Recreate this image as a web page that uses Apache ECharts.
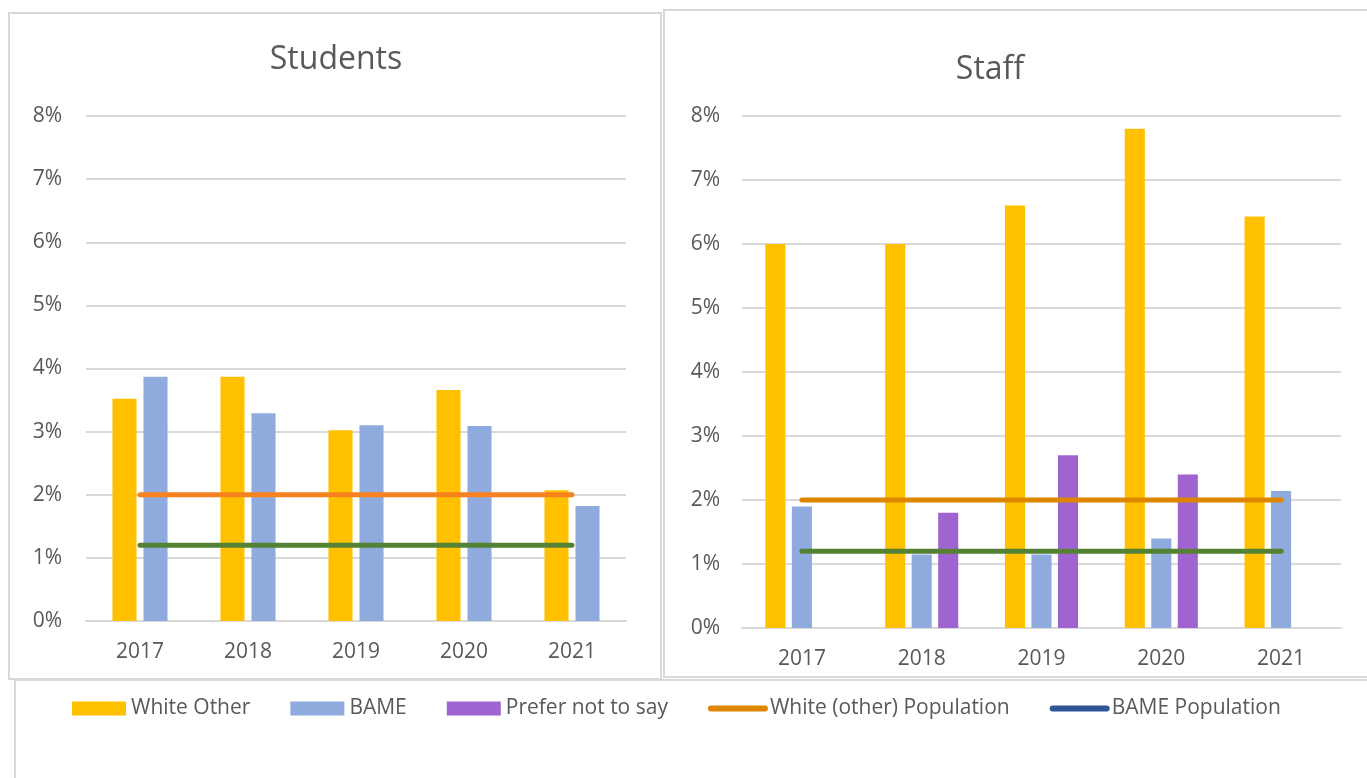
<!DOCTYPE html>
<html>
<head>
<meta charset="utf-8">
<title>Students and Staff – White Other / BAME</title>
<script src="https://cdn.jsdelivr.net/npm/echarts@6/dist/echarts.min.js"></script>
<style>
  html, body { margin: 0; padding: 0; background: #ffffff; }
  #chart { width: 1367px; height: 778px; }
</style>
</head>
<body>
<div id="chart"></div>
<script>
// Categories and tick labels
const years = ['2017', '2018', '2019', '2020', '2021'];
const percentTicks = { min: 0, max: 8, interval: 1 };

// Students (percent)
const studentsWhiteOther = [3.52, 3.87, 3.02, 3.66, 2.07];
const studentsBame = [3.87, 3.29, 3.10, 3.09, 1.82];

// Staff (percent)
const staffWhiteOther = [6.0, 6.0, 6.6, 7.8, 6.43];
const staffBame = [1.9, 1.15, 1.15, 1.4, 2.14];
const staffPreferNot = [null, 1.8, 2.7, 2.4, null];

// Population reference levels (percent)
const whiteOtherPopulation = [2, 2, 2, 2, 2];
const bamePopulation = [1.2, 1.2, 1.2, 1.2, 1.2];

const FONT = '"Open Sans", "Liberation Sans", sans-serif';
const TEXT = '#595959';
const GRID_LINE = '#d9d9d9';
const C_YELLOW = '#ffc000';
const C_BLUE = '#8faadc';
const C_PURPLE = '#a064d0';
const C_ORANGE_STUD = '#f5821f';
const C_ORANGE_STAFF = '#df8600';
const C_GREEN = '#548235';
const C_NAVY = '#2f5597';

function yAxis(gridIndex, margin) {
  return {
    type: 'value', gridIndex,
    min: percentTicks.min, max: percentTicks.max, interval: percentTicks.interval,
    axisLine: { show: false }, axisTick: { show: false },
    axisLabel: { formatter: '{value}%', color: TEXT, fontSize: 21, fontFamily: FONT, margin },
    splitLine: { lineStyle: { color: GRID_LINE, width: 2 } }
  };
}
function xAxis(gridIndex) {
  return {
    type: 'category', gridIndex, data: years,
    axisLine: { lineStyle: { color: GRID_LINE, width: 2 } },
    axisTick: { show: false },
    axisLabel: { color: TEXT, fontSize: 21, fontFamily: FONT, margin: 21 }
  };
}
function bar(name, data, color, idx, extra) {
  return Object.assign({
    name, type: 'bar', data, xAxisIndex: idx, yAxisIndex: idx,
    itemStyle: { color }, z: 2
  }, extra || {});
}
function popLine(name, data, color, idx) {
  return {
    name, type: 'line', data, xAxisIndex: idx, yAxisIndex: idx,
    symbol: 'none', z: 5,
    lineStyle: { color, width: 5, cap: 'round' },
    itemStyle: { color }
  };
}

const chart = echarts.init(document.getElementById('chart'), null, { renderer: 'canvas' });

chart.setOption({
  animation: false,
  backgroundColor: '#ffffff',
  textStyle: { fontFamily: FONT },
  graphic: [
    { type: 'rect', shape: { x: 9, y: 13, width: 652, height: 666 },
      style: { fill: 'none', stroke: GRID_LINE, lineWidth: 2 }, z: -1 },
    { type: 'rect', shape: { x: 664, y: 10, width: 720, height: 667 },
      style: { fill: 'none', stroke: GRID_LINE, lineWidth: 2 }, z: -1 },
    { type: 'rect', shape: { x: 15, y: 680, width: 1380, height: 120 },
      style: { fill: 'none', stroke: GRID_LINE, lineWidth: 2 }, z: -1 }
  ],
  title: [
    { text: 'Students', left: 331, top: 39, textAlign: 'center',
      textStyle: { color: TEXT, fontSize: 32, fontWeight: 'normal', fontFamily: FONT } },
    { text: 'Staff', left: 985, top: 49, textAlign: 'center',
      textStyle: { color: TEXT, fontSize: 32, fontWeight: 'normal', fontFamily: FONT } }
  ],
  legend: {
    left: 67, top: 693,
    itemWidth: 54, itemHeight: 14, itemGap: 40,
    textStyle: { color: TEXT, fontSize: 21, fontFamily: FONT },
    data: [
      { name: 'White Other', icon: 'rect', itemStyle: { color: C_YELLOW } },
      { name: 'BAME', icon: 'rect', itemStyle: { color: C_BLUE } },
      { name: 'Prefer not to say', icon: 'rect', itemStyle: { color: C_PURPLE } },
      { name: 'White (other) Population', itemStyle: { opacity: 0 },
        lineStyle: { color: C_ORANGE_STAFF, width: 6, cap: 'round' } },
      { name: 'BAME Population', itemStyle: { opacity: 0 },
        lineStyle: { color: C_NAVY, width: 6, cap: 'round' } }
    ]
  },
  grid: [
    { left: 86, right: 741, top: 116, bottom: 157 },
    { left: 742, right: 26, top: 116, bottom: 150 }
  ],
  xAxis: [xAxis(0), xAxis(1)],
  yAxis: [yAxis(0, 24), yAxis(1, 22)],
  series: [
    bar('White Other', studentsWhiteOther, C_YELLOW, 0, { barGap: '29%', barCategoryGap: '49%' }),
    bar('BAME', studentsBame, C_BLUE, 0),
    popLine('White (other) Population', whiteOtherPopulation, C_ORANGE_STUD, 0),
    popLine('BAME Population', bamePopulation, C_GREEN, 0),

    bar('White Other', staffWhiteOther, C_YELLOW, 1, { barGap: '32%', barCategoryGap: '39%' }),
    bar('BAME', staffBame, C_BLUE, 1),
    bar('Prefer not to say', staffPreferNot, C_PURPLE, 1),
    popLine('White (other) Population', whiteOtherPopulation, C_ORANGE_STAFF, 1),
    popLine('BAME Population', bamePopulation, C_GREEN, 1)
  ]
});
</script>
</body>
</html>
